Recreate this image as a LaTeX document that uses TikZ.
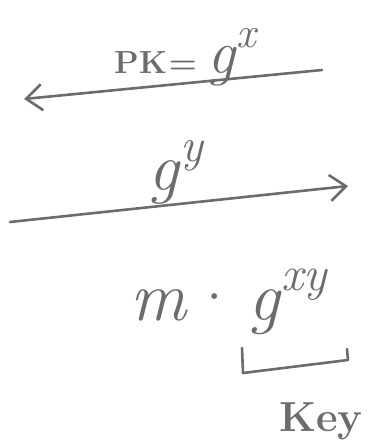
\documentclass[tikz,border=0pt]{standalone}
\usepackage{xcolor}
\usepackage{tikz}
\usetikzlibrary{arrows.meta}

\definecolor{pen}{RGB}{108,108,108}
% base with a raised exponent, from the scalable text fonts
\newcommand{\pwr}[2]{\textit{#1}\raisebox{0.42em}{\scalebox{0.7}{\textit{#2}}}}

\begin{document}
\begin{tikzpicture}[x=1pt, y=-1pt, >={Straight Barb[length=16pt, width=26pt, line width=2.6pt]},
    stroke/.style={draw=pen, line width=2.6pt, line cap=round, line join=round},
    hand/.style={text=pen, inner sep=0pt}]
  \useasboundingbox (0,0) rectangle (368,444);
  % arrow back to the sender
  \coordinate (pkR) at (322,70);
  \coordinate (pkL) at (24,99);
  \draw[stroke, ->] (pkR) -- (pkL);
  \node[hand, anchor=base west, font=\fontsize{62}{62}\selectfont] (pk) at (114,74)
    {{\fontsize{32}{32}\selectfont\bfseries PK\hspace{2pt}=}\hspace{10pt}\pwr{g}{x}};
  % arrow forward to the receiver
  \coordinate (gyL) at (10,222);
  \coordinate (gyR) at (348,186);
  \draw[stroke, ->] (gyL) -- (gyR);
  \node[hand, anchor=base west, font=\fontsize{68}{68}\selectfont] (gy) at (148,190) {\pwr{g}{y}};
  % ciphertext
  \node[hand, anchor=base west, font=\fontsize{70}{70}\selectfont] (ct) at (130,320)
    {\textit{m}\hspace{2pt}\textperiodcentered\hspace{8pt}\pwr{g}{xy}};
  % bracket under the shared key
  \coordinate (brA) at (242,348);
  \coordinate (brB) at (243,373);
  \coordinate (brC) at (348,360);
  \coordinate (brD) at (347,349);
  \draw[stroke] (brA) -- (brB) -- (brC) -- (brD);
  \node[hand, anchor=base west, font=\fontsize{42}{42}\selectfont\bfseries] (key) at (279,431) {Key};
\end{tikzpicture}
\end{document}
